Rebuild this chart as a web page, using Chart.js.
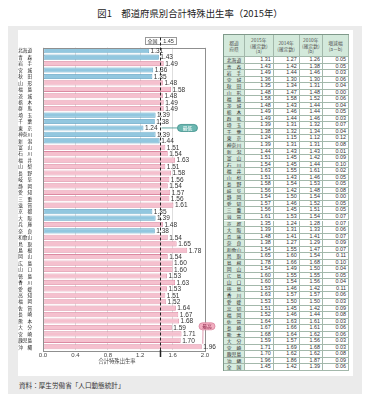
<!DOCTYPE html>
<html lang="ja">
<head>
<meta charset="utf-8">
<script src="https://cdn.jsdelivr.net/npm/chart.js@4.4.1/dist/chart.umd.min.js"></script>
<style>
  body { margin:0; width:370px; height:399px; position:relative; overflow:hidden; background:#fff; font-family:"Noto Sans CJK JP", sans-serif; }
  #title { position:absolute; left:5px; width:370px; top:6px; text-align:center; font-size:9.4px; line-height:14px; color:#222; }
  #frame { position:absolute; left:8px; top:26px; width:354px; height:368px; background:#ebebeb; }
  #panel { position:absolute; left:18px; top:30px; width:335px; height:346px; background:#fff; }
  #src { position:absolute; left:19px; top:380px; font-size:6.6px; line-height:10px; color:#333; }
  #chart { position:absolute; left:0; top:0; }
  #tbl { position:absolute; left:223px; top:34px; border-left:1px solid #7f998a; border-top:1px solid #7f998a; }
  .c { position:absolute; box-sizing:border-box; border-right:1px solid #a3b8ab; border-bottom:1px solid #a3b8ab; overflow:hidden; white-space:nowrap; }
  .h { background:#d3e9db; color:#555; font-size:4.8px; line-height:5.4px; text-align:center; display:flex; align-items:center; justify-content:center; }
  .n { background:#d7ecdf; color:#333; font-size:4.8px; text-align:center; }
  .v { background:#fff; color:#333; font-family:"Liberation Sans", Arial, sans-serif; font-size:5.4px; text-align:right; padding-right:2px; }
</style>
</head>
<body>
<div id="title">図1　都道府県別合計特殊出生率（2015年）</div>
<div id="frame"></div>
<div id="panel"></div>
<canvas id="chart" width="222" height="370"></canvas>
<div id="tbl"></div>
<div id="src">資料：厚生労働省「人口動態統計」</div>
<script>
// data
var prefs = ['北海道','青　森','岩　手','宮　城','秋　田','山　形','福　島','茨　城','栃　木','群　馬',
  '埼　玉','千　葉','東　京','神奈川','新　潟','富　山','石　川','福　井','山　梨','長　野',
  '岐　阜','静　岡','愛　知','三　重','滋　賀','京　都','大　阪','兵　庫','奈　良','和歌山',
  '鳥　取','島　根','岡　山','広　島','山　口','徳　島','香　川','愛　媛','高　知','福　岡',
  '佐　賀','長　崎','熊　本','大　分','宮　崎','鹿児島','沖　縄'];
var rate2015 = [1.31,1.43,1.49,1.36,1.35,1.48,1.58,1.48,1.49,1.49,
  1.39,1.38,1.24,1.39,1.44,1.51,1.54,1.63,1.51,1.58,
  1.56,1.54,1.57,1.56,1.61,1.35,1.39,1.48,1.38,1.54,
  1.65,1.78,1.54,1.60,1.60,1.53,1.63,1.53,1.51,1.52,
  1.64,1.67,1.68,1.59,1.71,1.70,1.96];
var rate2014 = [1.27,1.42,1.44,1.30,1.34,1.47,1.58,1.43,1.46,1.44,
  1.31,1.32,1.15,1.31,1.43,1.45,1.45,1.55,1.43,1.54,
  1.42,1.50,1.46,1.45,1.53,1.24,1.31,1.41,1.27,1.55,
  1.60,1.66,1.49,1.55,1.54,1.46,1.57,1.50,1.45,1.46,
  1.63,1.66,1.64,1.57,1.69,1.62,1.86];
var rate2010 = [1.26,1.38,1.46,1.30,1.31,1.48,1.52,1.44,1.44,1.46,
  1.32,1.34,1.12,1.31,1.43,1.42,1.44,1.61,1.46,1.53,
  1.48,1.54,1.52,1.51,1.54,1.28,1.33,1.41,1.29,1.47,
  1.54,1.68,1.50,1.55,1.56,1.42,1.57,1.50,1.42,1.44,
  1.61,1.61,1.62,1.56,1.68,1.62,1.87];
var diffAB = [0.05,0.05,0.03,0.06,0.04,0.00,0.06,0.04,0.05,0.03,
  0.07,0.04,0.12,0.08,0.01,0.09,0.10,0.02,0.05,0.05,
  0.08,0.00,0.05,0.05,0.07,0.07,0.06,0.07,0.09,0.07,
  0.11,0.10,0.04,0.05,0.04,0.11,0.06,0.03,0.09,0.08,
  0.03,0.06,0.06,0.03,0.03,0.08,0.09];
var nationalLabel = '全　国';
var national = [1.45, 1.42, 1.39, 0.06];
var xTicks = [0, 0.4, 0.8, 1.2, 1.6, 2.0];

var BLUE = '#92c7df', BLUE_LINE = '#5b9fc1';
var PINK = '#f5c0ce', PINK_LINE = '#db8aa2';
var numFont = '"Liberation Sans", Arial, sans-serif';
var jpFont = '"Noto Sans CJK JP", sans-serif';

// table
var tbl = document.getElementById('tbl');
var colW = [21, 28.7, 26, 23.3, 26];
var headH = 22, rowH = 6.54;
var heads = ['都道<br>府県', '2015年<br>(確定数)<br>(a)', '2014年<br>(確定数)', '2010年<br>(確定数)<br>(b)', '増減幅<br>(a－b)'];
function cell(cls, x, y, w, h, html) {
  var d = document.createElement('div');
  d.className = 'c ' + cls;
  d.style.left = x + 'px'; d.style.top = y + 'px';
  d.style.width = w + 'px'; d.style.height = h + 'px';
  if (cls != 'h') d.style.lineHeight = (h - 1) + 'px';
  d.innerHTML = html;
  tbl.appendChild(d);
}
var x0 = 0;
heads.forEach(function(t, j) { cell('h', x0, 0, colW[j], headH, t); x0 += colW[j]; });
var rows = prefs.map(function(p, i) { return [p, rate2015[i], rate2014[i], rate2010[i], diffAB[i]]; });
rows.push([nationalLabel].concat(national));
rows.forEach(function(r, i) {
  var y = headH + i * rowH, x = 0;
  r.forEach(function(v, j) {
    cell(j == 0 ? 'n' : 'v', x, y, colW[j], rowH, j == 0 ? v : v.toFixed(2));
    x += colW[j];
  });
});
tbl.style.width = x0 + 'px';
tbl.style.height = (headH + rows.length * rowH) + 'px';

// overlay: frame, value labels, national line and callouts
var overlay = {
  id: 'overlay',
  afterDatasetsDraw: function(chart) {
    var ctx = chart.ctx, a = chart.chartArea, xs = chart.scales.x;
    var bars = chart.getDatasetMeta(0).data;
    ctx.save();
    ctx.strokeStyle = '#8f8f8f'; ctx.lineWidth = 1;
    ctx.strokeRect(Math.round(a.left) + 0.5, Math.round(a.top) + 0.5, Math.round(a.right - a.left), Math.round(a.bottom - a.top));

    ctx.font = '6.5px ' + numFont;
    ctx.fillStyle = '#333'; ctx.textBaseline = 'middle'; ctx.textAlign = 'left';
    bars.forEach(function(b, i) { ctx.fillText(rate2015[i].toFixed(2), b.x + 1.5, b.y + 0.5); });

    // national average
    var nx = Math.round(xs.getPixelForValue(national[0])) + 0.5;
    ctx.fillStyle = '#fff'; ctx.strokeStyle = '#999';
    ctx.fillRect(nx - 15, a.top - 10, 31, 7);
    ctx.strokeRect(nx - 15, a.top - 10, 31, 7);
    ctx.fillStyle = '#333'; ctx.textAlign = 'center';
    ctx.font = '5px ' + jpFont; ctx.fillText('全国', nx - 8, a.top - 6.3);
    ctx.font = '5.5px ' + numFont; ctx.fillText(national[0].toFixed(2), nx + 8, a.top - 6.3);
    ctx.strokeStyle = '#222'; ctx.lineWidth = 1;
    ctx.setLineDash([3, 2]);
    ctx.beginPath(); ctx.moveTo(nx, a.top - 10); ctx.lineTo(nx, a.bottom); ctx.stroke();
    ctx.setLineDash([]); ctx.lineWidth = 1.5;
    ctx.beginPath(); ctx.moveTo(nx, a.bottom); ctx.lineTo(nx, a.bottom + 7); ctx.stroke();

    // lowest / highest
    var lo = rate2015.indexOf(Math.min.apply(null, rate2015));
    var hi = rate2015.indexOf(Math.max.apply(null, rate2015));
    var bl = bars[lo], bh = bars[hi];
    var px = xs.getPixelForValue(1.66);
    ctx.strokeStyle = '#3e8f8a'; ctx.lineWidth = 0.8;
    ctx.beginPath(); ctx.moveTo(nx + 1, bl.y); ctx.lineTo(px, bl.y); ctx.stroke();
    ctx.fillStyle = '#6bb7b1';
    ctx.beginPath(); ctx.roundRect(px, bl.y - 3.5, 20, 7, 3.5); ctx.fill(); ctx.stroke();
    ctx.fillStyle = '#fff'; ctx.font = '4.8px ' + jpFont;
    ctx.fillText('最低', px + 10, bl.y + 0.2);

    var hx = a.right - 6, hy = bh.y - 24;
    ctx.strokeStyle = '#d8839d';
    ctx.beginPath(); ctx.moveTo(hx + 4, hy + 7); ctx.lineTo(xs.getPixelForValue(rate2015[hi]) + 1, bh.y - 3); ctx.stroke();
    ctx.fillStyle = '#f2aec0';
    ctx.beginPath(); ctx.roundRect(hx, hy, 16, 7, 3.5); ctx.fill(); ctx.stroke();
    ctx.fillStyle = '#8c2347';
    ctx.fillText('最高', hx + 8, hy + 3.7);

    // axis title
    ctx.fillStyle = '#444'; ctx.font = '5.3px ' + jpFont;
    ctx.fillText('合計特殊出生率', 117, a.bottom + 10.5);
    ctx.restore();
  }
};

new Chart(document.getElementById('chart'), {
  type: 'bar',
  data: {
    labels: prefs,
    datasets: [{
      data: rate2015,
      backgroundColor: rate2015.map(function(v) { return v < national[0] ? BLUE : PINK; }),
      borderColor: rate2015.map(function(v) { return v < national[0] ? BLUE_LINE : PINK_LINE; }),
      borderWidth: 0.8,
      borderSkipped: false,
      barPercentage: 0.8,
      categoryPercentage: 1
    }]
  },
  options: {
    indexAxis: 'y',
    responsive: false,
    animation: false,
    layout: { padding: { top: 47.5, right: 17, left: 0, bottom: 0 } },
    plugins: { legend: { display: false }, tooltip: { enabled: false } },
    scales: {
      x: {
        min: 0, max: 2,
        afterBuildTicks: function(s) { s.ticks = xTicks.map(function(v) { return { value: v }; }); },
        afterFit: function(s) { s.height = 20; },
        grid: { color: '#dedede', drawTicks: false },
        border: { display: false },
        ticks: { font: { size: 6, family: numFont }, color: '#444', padding: 1.5,
                 callback: function(v) { return Number(v).toFixed(1); } }
      },
      y: {
        afterFit: function(s) { s.width = 43; },
        grid: { display: false },
        border: { display: false },
        ticks: { autoSkip: false, font: { size: 4.6, family: jpFont }, color: '#222', padding: 3 }
      }
    }
  },
  plugins: [overlay]
});
</script>
</body>
</html>
